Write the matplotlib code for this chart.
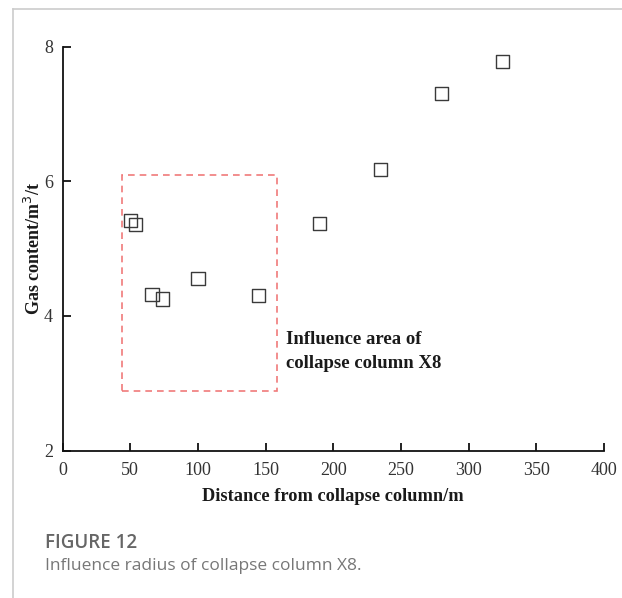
import matplotlib
matplotlib.use('Agg')
import matplotlib.pyplot as plt
from matplotlib.patches import Rectangle
from matplotlib.lines import Line2D

# --- data ---
distance = [50, 54, 66, 74, 100, 145, 190, 235, 280, 325]
gas_content = [5.42, 5.36, 4.32, 4.25, 4.56, 4.30, 5.37, 6.18, 7.30, 7.78]
x_ticks = [0, 50, 100, 150, 200, 250, 300, 350, 400]
y_ticks = [2, 4, 6, 8]
# influence area box (x0, x1, y0, y1)
area_x = [43.7, 158.2]
area_y = [2.88, 6.09]

W, H = 622, 598
SERIF = ['Liberation Serif', 'DejaVu Serif']

fig = plt.figure(figsize=(W / 100, H / 100), dpi=100)

# axes placed by pixel box
left, right, top, bottom = 62.6, 604, 46.7, 450.5
ax = fig.add_axes([left / W, 1 - bottom / H, (right - left) / W, (bottom - top) / H])

ax.scatter(distance, gas_content, marker='s', s=90, facecolors='none',
           edgecolors='#3a3a3a', linewidths=1.0, zorder=3)

ax.add_patch(Rectangle((area_x[0], area_y[0]), area_x[1] - area_x[0], area_y[1] - area_y[0],
                       fill=False, edgecolor='#f07a7a', linestyle=(0, (4, 3)), linewidth=1.2))
ax.text(165, 3.47, 'Influence area of\ncollapse column X8', family=SERIF, fontsize=13.5,
        fontweight='bold', color='#1a1a1a', va='center', ha='left', linespacing=1.55)

ax.set_xlim(0, 400)
ax.set_ylim(2, 8)
ax.set_xticks(x_ticks)
ax.set_yticks(y_ticks)
for s in ['top', 'right']:
    ax.spines[s].set_visible(False)
for s in ['left', 'bottom']:
    ax.spines[s].set_linewidth(1.3)
    ax.spines[s].set_color('#111111')
ax.tick_params(direction='in', length=6, width=1.3, color='#111111', labelsize=13,
               labelcolor='#333333')
ax.tick_params(axis='x', pad=8)
ax.tick_params(axis='y', pad=7)
for lab in ax.get_xticklabels() + ax.get_yticklabels():
    lab.set_family(SERIF)

ax.set_xlabel('Distance from collapse column/m', family=SERIF, fontsize=13.2,
              fontweight='bold', color='#1a1a1a', labelpad=7)
ax.set_ylabel('Gas content/m$^3$/t', family=SERIF, fontsize=13,
              fontweight='bold', color='#1a1a1a', labelpad=0)

# frame lines (left and top)
fig.add_artist(Line2D([12.7 / W, 12.7 / W], [0, 1 - 9 / H], transform=fig.transFigure,
                      color='#cccccc', linewidth=1.2))
fig.add_artist(Line2D([12.7 / W, 1], [1 - 9 / H, 1 - 9 / H], transform=fig.transFigure,
                      color='#cccccc', linewidth=1.2))

# caption
fig.text(45 / W, 1 - 543 / H, 'FIGURE 12', family=['Open Sans', 'DejaVu Sans'],
         fontsize=13.5, fontweight='semibold', color='#666666', va='center', ha='left')
fig.text(45 / W, 1 - 566 / H, 'Influence radius of collapse column X8.',
         family=['Open Sans', 'DejaVu Sans'], fontsize=12.5, color='#777777',
         va='center', ha='left')

fig.savefig('out.png', dpi=100)
